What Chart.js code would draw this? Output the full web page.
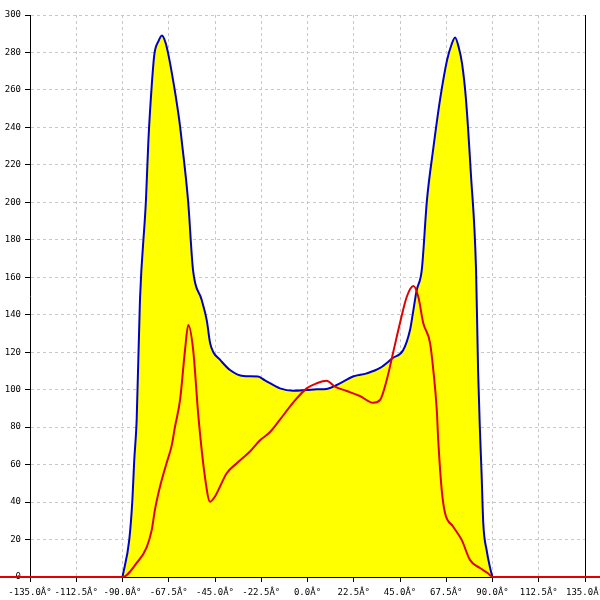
<!DOCTYPE html>
<html lang="en">
<head>
    <meta charset="UTF-8">
    <title>Angular distribution</title>
    <script src="https://cdn.jsdelivr.net/npm/chart.js"></script>
    <style>
        body { margin: 0; background: #fff; }
        #wrap { width: 600px; height: 600px; }
    </style>
</head>
<body>
    <div id="wrap"><canvas id="chart" width="600" height="600"></canvas></div>

    <script>
        // Outline series (blue, filled yellow)
        const blueAngles = [-90, -86.7, -85.2, -84.3, -83.1, -81.5, -78.6, -77.4, -75.8, -74.5, -72.5, -70.8, -69, -67.7, -64.9, -62.4, -61.2, -58.1, -55.7, -51.5, -49.0, -47.4, -45.8, -42.6, -37.7, -31.2, -24.1, -20.7, -13.4, -7.1, -0.4, 4.5, 9.3, 15.8, 22.1, 28.8, 35.3, 41.6, 46.5, 49.9, 51.3, 53.1, 55.6, 58.1, 61.1, 64.5, 67.9, 70, 71.8, 73.5, 75.2, 77.1, 79.5, 82, 83, 83.9, 84.7, 85.5, 87.2, 88.8, 90];
        const blueValues = [0, 20, 41, 62, 84, 148, 201, 233, 262, 279, 286, 289, 285, 279, 262, 244, 233, 201, 164, 148, 137, 125, 120, 116, 110.5, 107.3, 107, 105, 100.7, 99.4, 99.8, 100.2, 100.4, 103.4, 107, 108.7, 111.6, 117, 121, 132, 141, 153, 164, 201, 228, 255, 276, 284, 288, 283, 274, 255, 215, 164, 110, 78, 55, 29, 14, 5, 0];

        // Second series (red)
        const redAngles = [-150, -90, -83.1, -78.2, -75.8, -74.2, -71.8, -68.5, -66.1, -64.5, -62, -59.6, -58, -55.6, -53.1, -49.9, -47.4, -45, -39.3, -34.4, -28, -23.1, -18.2, -13.4, -7.1, -0.4, 4.5, 9.3, 13.4, 19.1, 25.5, 32, 35.3, 38.5, 41.7, 45, 48.3, 51.5, 53.9, 56.3, 59.6, 61.2, 62.9, 63.6, 65.3, 66.9, 70.8, 75, 79.1, 83.9, 87.8, 90, 150];
        const redValues = [0, 0, 7.5, 16, 25, 36, 48, 61, 70, 80, 94.5, 121, 134.5, 121, 86, 53.5, 40.2, 43, 55.4, 60.7, 67, 73, 77.4, 84, 93, 100.7, 103.4, 104.8, 101.6, 99.3, 96.6, 93, 94.5, 105, 120, 135.6, 149.6, 155.3, 149.6, 135.6, 125, 110.5, 89, 73, 46.4, 34.2, 27, 19.8, 9, 4.8, 2, 0, 0];

        const xMin = -135, xMax = 135, xStep = 22.5;
        const yMin = 0, yMax = 300, yStep = 20;

        const toPoints = (xs, ys) => xs.map((x, i) => ({ x: x, y: ys[i] }));

        const tickFont = { family: 'DejaVu Sans Mono', size: 9 };

        new Chart(document.getElementById('chart').getContext('2d'), {
            type: 'scatter',
            data: {
                datasets: [{
                    data: toPoints(redAngles, redValues),
                    showLine: true,
                    borderColor: '#e00000',
                    borderWidth: 2,
                    pointRadius: 0,
                    fill: false,
                    cubicInterpolationMode: 'monotone',
                    clip: false,
                    order: 0
                }, {
                    data: toPoints(blueAngles, blueValues),
                    showLine: true,
                    borderColor: '#0000c8',
                    backgroundColor: '#ffff00',
                    borderWidth: 2,
                    pointRadius: 0,
                    fill: 'origin',
                    cubicInterpolationMode: 'monotone',
                    order: 1
                }]
            },
            options: {
                responsive: false,
                animation: false,
                devicePixelRatio: 1,
                layout: { padding: { top: 15, left: 0, right: 0, bottom: 0 } },
                plugins: { legend: { display: false }, tooltip: { enabled: false } },
                scales: {
                    x: {
                        type: 'linear',
                        min: xMin,
                        max: xMax,
                        afterFit: (s) => { s.height = 23; s.paddingLeft = 0; s.paddingRight = 0; },
                        ticks: {
                            stepSize: xStep,
                            autoSkip: false,
                            maxRotation: 0,
                            color: '#000',
                            font: tickFont,
                            padding: 5,
                            callback: (v) => v.toFixed(1) + 'Â°'
                        },
                        grid: { color: '#c8c8c8', tickColor: '#000', tickLength: 5 },
                        border: { color: '#000', width: 1, dash: [3, 3] }
                    },
                    y: {
                        min: yMin,
                        max: yMax,
                        afterFit: (s) => { s.width = 30; s.paddingTop = 0; s.paddingBottom = 0; },
                        ticks: { stepSize: yStep, color: '#000', font: tickFont, padding: 4 },
                        grid: { color: '#c8c8c8', tickColor: '#000', tickLength: 5 },
                        border: { color: '#000', width: 1, dash: [3, 3] }
                    },
                    y2: {
                        position: 'right',
                        min: yMin,
                        max: yMax,
                        afterFit: (s) => { s.width = 15; },
                        ticks: { display: false },
                        grid: { drawOnChartArea: false, drawTicks: false },
                        border: { color: '#000', width: 1 }
                    }
                }
            }
        });
    </script>
</body>
</html>
